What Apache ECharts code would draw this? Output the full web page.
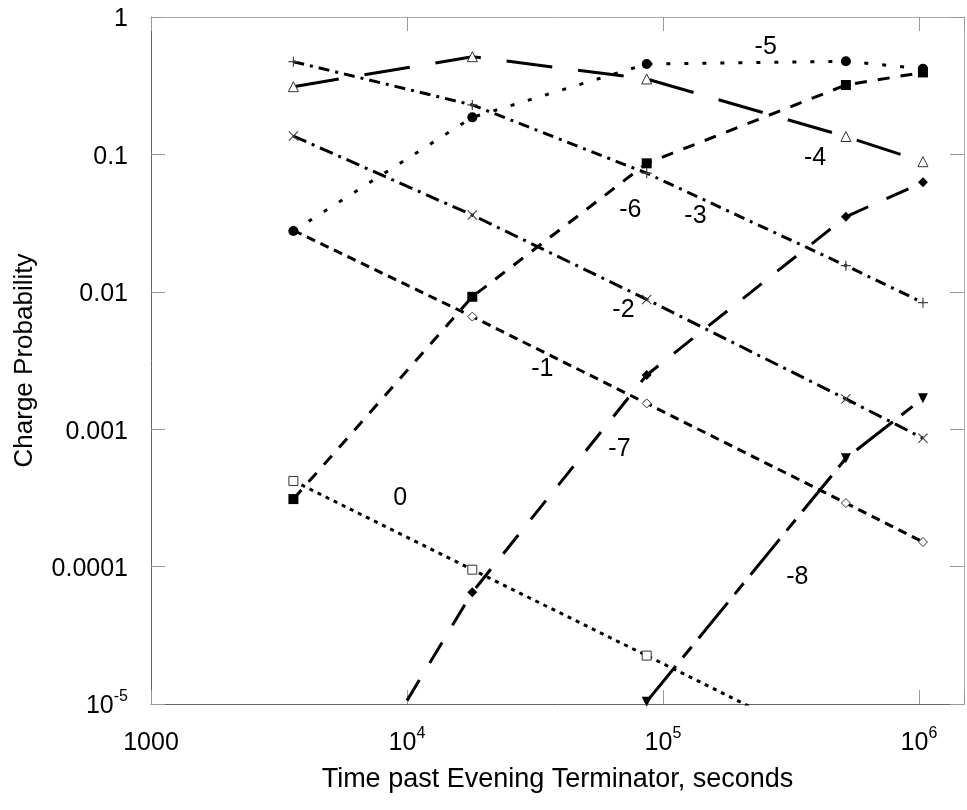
<!DOCTYPE html>
<html>
<head>
<meta charset="utf-8">
<script src="https://cdn.jsdelivr.net/npm/echarts@6/dist/echarts.min.js"></script>
<style>
    html, body { margin: 0; padding: 0; background: #fff; }
    #chart { width: 967px; height: 810px; }
</style>
</head>
<body>
<div id="chart"></div>
<script>
    // time points (seconds past evening terminator)
    const times = [3600, 18000, 86400, 518400, 1036800];

    // charge probabilities, one array per charge state
    const charge0 = [4.2e-4, 9.5e-5, 2.25e-5, 4.3e-6, 2.2e-6];
    const chargeM1 = [0.028, 0.0066, 0.00154, 2.9e-4, 1.51e-4];
    const chargeM2 = [0.136, 0.0362, 0.0088, 0.00166, 8.6e-4];
    const chargeM3 = [0.473, 0.229, 0.073, 0.0155, 0.00834];
    const chargeM4 = [0.311, 0.514, 0.354, 0.135, 0.0885];
    const chargeM5 = [0.0277, 0.186, 0.455, 0.476, 0.42];
    const chargeM6 = [3.1e-4, 0.0092, 0.0861, 0.32, 0.395];
    const chargeM7 = [4.5e-7, 6.5e-5, 0.00248, 0.0352, 0.0626];
    const chargeM8 = [null, null, 1.04e-5, 6.14e-4, 0.00168];

    // curve labels (text, time, probability)
    const labelText = ['0', '-1', '-2', '-3', '-4', '-5', '-6', '-7', '-8'];
    const labelX = [9400, 33800, 70100, 134000, 393000, 252000, 74600, 67600, 335000];
    const labelY = [3.16e-4, 0.00274, 0.00737, 0.0356, 0.0942, 0.605, 0.0394, 7.18e-4, 8.4e-5];

    // tick labels
    const xTickLabels = ['1000', '10^4', '10^5', '10^6'];
    const yTickLabels = ['10^-5', '0.0001', '0.001', '0.01', '0.1', '1'];

    const FONT = '"Liberation Sans", Arial, sans-serif';
    const PLUS = 'path://M0,4.4H10V5.6H0Z M4.4,0H5.6V10H4.4Z';
    const CROSS = 'path://M0.8,0L5,4.2L9.2,0L10,0.8L5.8,5L10,9.2L9.2,10L5,5.8L0.8,10L0,9.2L4.2,5L0,0.8Z';
    const DOWN_TRI = 'path://M0,0H10L5,10Z';

    function toRich(s) {
        let p = s.split('^');
        if (p.length === 1) return '{b|' + s + '}';
        return '{b|' + p[0] + '}{s|' + p[1] + '}';
    }

    function pairs(arr) {
        return times.map((t, i) => [t, arr[i]]);
    }

    let dom = document.getElementById('chart');
    let myChart = echarts.init(dom);

    let curves = [
        { name: '-1', data: chargeM1, symbol: 'diamond', size: 9, open: true, dash: [9, 6] },
        { name: '0', data: charge0, symbol: 'rect', size: 9, open: true, dash: [4, 5] },
        { name: '-2', data: chargeM2, symbol: CROSS, size: 10, open: false, gray: true, dash: [14, 6, 3, 6] },
        { name: '-3', data: chargeM3, symbol: PLUS, size: 10, open: false, gray: true, dash: [11, 6, 3, 6] },
        { name: '-4', data: chargeM4, symbol: 'triangle', size: 10, open: true, dash: [46, 26] },
        { name: '-6', data: chargeM6, symbol: 'rect', size: 10, open: false, dash: [12, 11] },
        { name: '-7', data: chargeM7, symbol: 'diamond', size: 10, open: false, dash: [24, 20] },
        { name: '-8', data: chargeM8, symbol: DOWN_TRI, size: 10, open: false, dash: [46, 11, 14, 11] },
        { name: '-5', data: chargeM5, symbol: 'circle', size: 10, open: false, dash: [4, 14] }
    ];

    let series = curves.map(c => {
        return {
            name: c.name,
            type: 'line',
            data: pairs(c.data),
            connectNulls: false,
            clip: true,
            symbol: c.symbol,
            symbolSize: c.size,
            showAllSymbol: true,
            lineStyle: {
                color: '#000',
                width: 3,
                type: c.dash
            },
            itemStyle: c.open ? {
                color: '#fff',
                borderColor: '#333',
                borderWidth: 1
            } : {
                color: c.gray ? '#444' : '#000',
                borderWidth: 0
            },
            z: 3
        }
    });

    // curve labels, placed in data coordinates
    series.push({
        type: 'scatter',
        data: labelText.map((t, i) => [labelX[i], labelY[i], t]),
        symbolSize: 0.1,
        itemStyle: { color: '#000', opacity: 1 },
        label: {
            show: true,
            position: 'inside',
            formatter: p => p.value[2],
            fontFamily: FONT,
            fontSize: 25,
            color: '#000',
            opacity: 1,
            textBorderWidth: 0
        },
        silent: true,
        z: 5
    });

    let richText = {
        b: { fontFamily: FONT, fontSize: 25, color: '#000', lineHeight: 30, verticalAlign: 'bottom' },
        s: { fontFamily: FONT, fontSize: 16, color: '#000', lineHeight: 30, verticalAlign: 'top' }
    };

    let tickStyle = { show: true, inside: true, length: 14, lineStyle: { color: '#999', width: 1 } };

    myChart.setOption({
        animation: false,
        backgroundColor: '#fff',
        grid: { left: 151, top: 17, width: 823, height: 687, containLabel: false },
        xAxis: [{
            type: 'log',
            logBase: 10,
            min: 1000,
            max: 1.5e6,
            position: 'bottom',
            name: 'Time past Evening Terminator, seconds',
            nameLocation: 'middle',
            nameGap: 62,
            nameTextStyle: { fontFamily: FONT, fontSize: 27, color: '#000' },
            axisLine: { onZero: false, lineStyle: { color: '#666', width: 1 } },
            axisTick: tickStyle,
            splitLine: { show: false },
            minorTick: { show: false },
            axisLabel: {
                margin: 22,
                formatter: function (v) {
                    let l = Math.log10(v);
                    let e = Math.round(l);
                    if (Math.abs(l - e) > 1e-6) return '';
                    return toRich(xTickLabels[e - 3] || '');
                },
                rich: richText
            }
        }, {
            type: 'log',
            logBase: 10,
            min: 1000,
            max: 1.5e6,
            position: 'top',
            axisLine: { onZero: false, lineStyle: { color: '#aaa', width: 1 } },
            axisTick: tickStyle,
            axisLabel: { show: false },
            splitLine: { show: false }
        }],
        yAxis: [{
            type: 'log',
            logBase: 10,
            min: 1e-5,
            max: 1,
            position: 'left',
            name: 'Charge Probability',
            nameLocation: 'middle',
            nameGap: 113,
            nameTextStyle: { fontFamily: FONT, fontSize: 26, color: '#000' },
            axisLine: { onZero: false, lineStyle: { color: '#666', width: 1 } },
            axisTick: tickStyle,
            splitLine: { show: false },
            axisLabel: {
                margin: 23,
                formatter: function (v) {
                    let l = Math.log10(v);
                    let e = Math.round(l);
                    if (Math.abs(l - e) > 1e-6) return '';
                    return toRich(yTickLabels[e + 5] || '');
                },
                rich: richText
            }
        }, {
            type: 'log',
            logBase: 10,
            min: 1e-5,
            max: 1,
            position: 'right',
            axisLine: { onZero: false, lineStyle: { color: '#aaa', width: 1 } },
            axisTick: tickStyle,
            axisLabel: { show: false },
            splitLine: { show: false }
        }],
        series: series
    });
</script>
</body>
</html>
